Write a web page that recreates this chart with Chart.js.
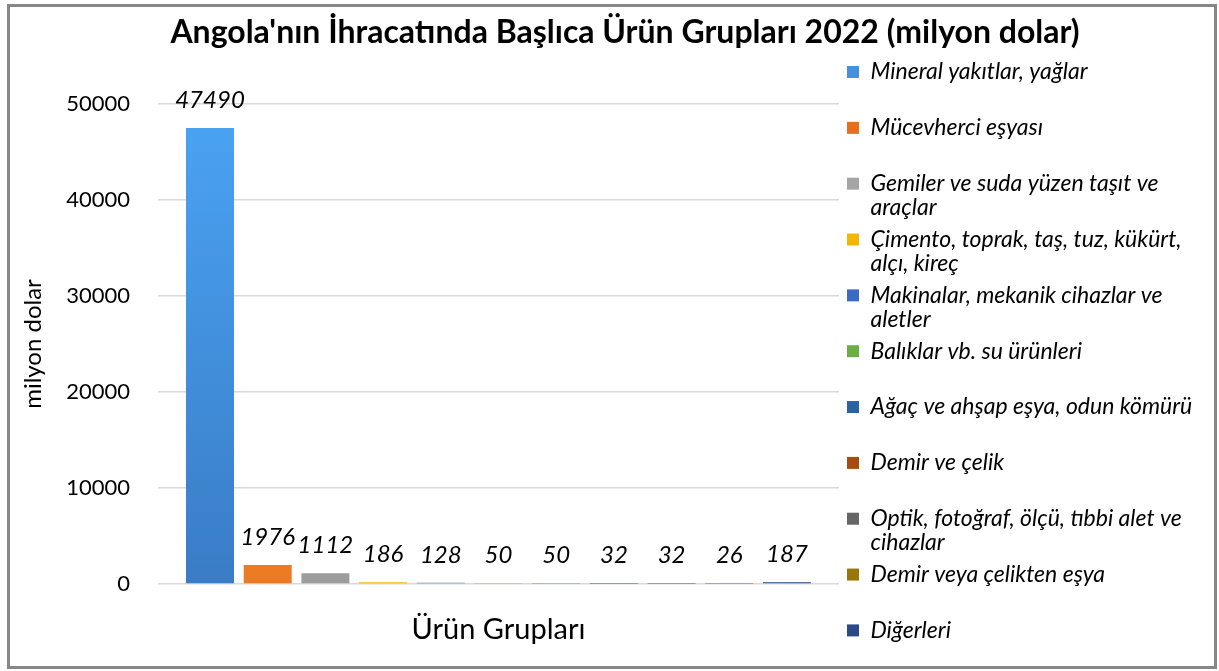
<!DOCTYPE html>
<html>
<head>
<meta charset="utf-8">
<script src="https://cdn.jsdelivr.net/npm/chart.js@4.4.0/dist/chart.umd.min.js"></script>
<style>
  html, body { margin: 0; padding: 0; background: #ffffff; }
  #wrap { position: relative; width: 1219px; height: 671px; overflow: hidden; }
  #c { position: absolute; left: 0; top: 0; }
  #frame { position: absolute; left: 7px; top: 4px; width: 1210px; height: 665px;
           box-sizing: border-box; border: 3px solid #878787; pointer-events: none; }
</style>
</head>
<body>
<div id="wrap">
  <canvas id="c" width="1219" height="671"></canvas>
  <div id="frame"></div>
</div>
<script>
// ---------------- data ----------------
const chartTitle = "Angola'nın İhracatında Başlıca Ürün Grupları 2022 (milyon dolar)";
const xAxisTitle = "Ürün Grupları";
const yAxisTitle = "milyon dolar";
const categories = [""];
const seriesNames = [
  "Mineral yakıtlar, yağlar",
  "Mücevherci eşyası",
  "Gemiler ve suda yüzen taşıt ve araçlar",
  "Çimento, toprak, taş, tuz, kükürt, alçı, kireç",
  "Makinalar, mekanik cihazlar ve aletler",
  "Balıklar vb. su ürünleri",
  "Ağaç ve ahşap eşya, odun kömürü",
  "Demir ve çelik",
  "Optik, fotoğraf, ölçü, tıbbi alet ve cihazlar",
  "Demir veya çelikten eşya",
  "Diğerleri"
];
const legendLines = [
  ["Mineral yakıtlar, yağlar"],
  ["Mücevherci eşyası"],
  ["Gemiler ve suda yüzen taşıt ve", "araçlar"],
  ["Çimento, toprak, taş, tuz, kükürt,", "alçı, kireç"],
  ["Makinalar, mekanik cihazlar ve", "aletler"],
  ["Balıklar vb. su ürünleri"],
  ["Ağaç ve ahşap eşya, odun kömürü"],
  ["Demir ve çelik"],
  ["Optik, fotoğraf, ölçü, tıbbi alet ve", "cihazlar"],
  ["Demir veya çelikten eşya"],
  ["Diğerleri"]
];
const values = [47490, 1976, 1112, 186, 128, 50, 50, 32, 32, 26, 187];
const yTickMin = 0;
const yTickMax = 50000;
const yTickStep = 10000;

// ---------------- styles ----------------
const barColors = ['#3a7cc6', '#ec7a22', '#9c9c9c', '#e8b410', '#4472c4', '#70ad47',
                   '#255e91', '#9e480e', '#636363', '#997300', '#264478'];
const barTopColors = ['#4aa4f4', '#f79040', '#b8b8b8', '#ffc000', '#5a8ad8', '#80c050',
                      '#3070a8', '#b05818', '#787878', '#aa8410', '#305090'];
const legendColors = ['#4391dc', '#e2701f', '#a5a5a5', '#f2b700', '#3a6cc4', '#6cae46',
                      '#2a64a0', '#a64c12', '#666666', '#9a7608', '#2a4a86'];
const FONT = 'Lato, "Noto Sans", sans-serif';
Chart.defaults.font.family = FONT;
Chart.defaults.color = '#000000';

const PAD_LEFT = 31;
const LEGEND_WIDTH = 380;

function barFill(ctx) {
  const i = ctx.datasetIndex;
  const area = ctx.chart.chartArea;
  if (!area) return barColors[i];
  const g = ctx.chart.ctx.createLinearGradient(0, area.top, 0, area.bottom);
  g.addColorStop(0, barTopColors[i]);
  g.addColorStop(1, barColors[i]);
  return g;
}

const datasets = seriesNames.map((name, i) => ({
  label: name,
  data: [values[i]],
  backgroundColor: barFill,
  borderWidth: 0
}));

const valueLabels = {
  id: 'valueLabels',
  afterDatasetsDraw(chart) {
    const ctx = chart.ctx;
    ctx.save();
    ctx.font = 'italic 24px ' + FONT;
    ctx.fillStyle = '#000000';
    ctx.textAlign = 'center';
    ctx.textBaseline = 'middle';
    chart.data.datasets.forEach((ds, i) => {
      const el = chart.getDatasetMeta(i).data[0];
      if (el) ctx.fillText(String(ds.data[0]), el.x, el.y - 28);
    });
    ctx.restore();
  }
};

const legendWidthFix = {
  id: 'legendWidthFix',
  beforeLayout(chart) {
    const lg = chart.legend;
    if (lg && !lg.__fixed) {
      const fit = lg.fit;
      lg.fit = function () { fit.call(this); this.width = LEGEND_WIDTH; };
      lg.__fixed = true;
    }
  }
};

new Chart(document.getElementById('c'), {
  type: 'bar',
  data: { labels: categories, datasets: datasets },
  plugins: [valueLabels, legendWidthFix],
  options: {
    responsive: false,
    animation: false,
    devicePixelRatio: 1,
    layout: { padding: { left: PAD_LEFT, right: 0, top: 0, bottom: 0 } },
    datasets: { bar: { categoryPercentage: 0.932, barPercentage: 0.832 } },
    scales: {
      x: {
        ticks: { display: false },
        grid: { display: false, drawTicks: false },
        border: { display: false },
        title: {
          display: true, text: xAxisTitle, color: '#000000',
          font: { size: 29, family: FONT }, padding: { top: 28.6, bottom: 23.6 }
        }
      },
      y: {
        min: yTickMin, max: yTickMax,
        ticks: {
          stepSize: yTickStep, color: '#000000', font: { size: 22, family: FONT }, padding: 28,
          callback: (v) => String(v)
        },
        grid: { color: '#d9d9d9', lineWidth: 1.5, drawTicks: false },
        border: { display: false },
        title: {
          display: true, text: yAxisTitle, color: '#000000',
          font: { size: 24, family: FONT }, padding: { top: -12.4, bottom: 0 }
        },
        afterFit(s) { s.width = 158 - PAD_LEFT; }
      }
    },
    plugins: {
      title: {
        display: true, text: chartTitle, color: '#000000',
        font: { size: 32, weight: 'bold', family: FONT },
        padding: { top: 13.8, bottom: 51.8 }
      },
      legend: {
        display: true, position: 'right', align: 'start', fullSize: true, maxWidth: 420,
        title: { display: true, text: ' ', font: { size: 10, lineHeight: 1 }, padding: { top: 42.5, bottom: 0 } },
        labels: {
          boxWidth: 12, boxHeight: 12, padding: 8, color: '#000000',
          font: { size: 23, style: 'italic', lineHeight: 1.04, family: FONT },
          generateLabels(chart) {
            const last = chart.data.datasets.length - 1;
            return chart.data.datasets.map((ds, i) => {
              const lines = legendLines[i];
              let text;
              if (lines.length > 1) text = lines;
              else if (i === last) text = lines[0];
              else text = [lines[0], ''];
              return {
                text: text, fillStyle: legendColors[i], strokeStyle: legendColors[i],
                lineWidth: 0, hidden: false, datasetIndex: i, fontColor: '#000000'
              };
            });
          }
        }
      },
      tooltip: { enabled: false }
    }
  }
});
</script>
</body>
</html>
